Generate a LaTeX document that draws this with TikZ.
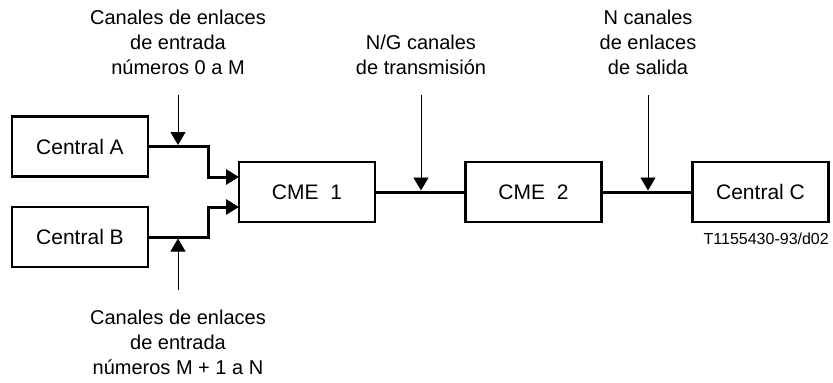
\documentclass[tikz,border=0pt]{standalone}
\usepackage{fontspec}
\setmainfont{Liberation Sans}
\usetikzlibrary{arrows.meta}
\begin{document}
\begin{tikzpicture}[x=1pt,y=-1pt,
  box/.style={draw,line width=2.4pt,inner sep=0pt,outer sep=0pt,minimum width=136pt,minimum height=60pt,font=\fontsize{21}{24}\selectfont},
  link/.style={line width=3pt},
  feed/.style={line width=0.9pt,-{Triangle[length=13pt,width=15pt]}},
  lab/.style={align=center,inner sep=0pt,anchor=north,font=\fontsize{20}{25}\selectfont}]
\useasboundingbox (0,0) rectangle (833,383);
\node[box] (A) at (80,146.5) {Central A};
\node[box] (B) at (80,237) {Central B};
\node[box] (M1) at (307,192) {CME\ \ 1};
\node[box] (M2) at (533.5,192) {CME\ \ 2};
\node[box] (C) at (760.5,192) {Central C};
\draw[link,-{Triangle[length=13pt,width=15pt]}] (A.east) -- ++(60,0) |- ([yshift=15pt]M1.west);
\draw[link,-{Triangle[length=13pt,width=15pt]}] (B.east) -- ++(60,0) |- ([yshift=-15pt]M1.west);
\draw[link] (M1.east) -- (M2.west);
\draw[link] (M2.east) -- (C.west);
\coordinate (sA) at (178,95);
\coordinate (tA) at (178,145);
\coordinate (sB) at (178,290);
\coordinate (tB) at (178,238.5);
\coordinate (sT) at (421,95);
\coordinate (tT) at (421,190.5);
\coordinate (sS) at (648,95);
\coordinate (tS) at (648,190.5);
\draw[feed] (sA) -- (tA);
\draw[feed] (sB) -- (tB);
\draw[feed] (sT) -- (tT);
\draw[feed] (sS) -- (tS);
\node[lab] (lA) at (178,10) {Canales de enlaces\\de entrada\\números 0 a M};
\node[lab] (lT) at (421,35) {N/G canales\\de transmisión};
\node[lab] (lS) at (648,10) {N canales\\de enlaces\\de salida};
\node[lab] (lB) at (178,310) {Canales de enlaces\\de entrada\\números M + 1 a N};
\node[anchor=base east,inner sep=0pt,font=\fontsize{16}{19}\selectfont] (ref) at (829,244) {T1155430-93/d02};
\end{tikzpicture}
\end{document}
